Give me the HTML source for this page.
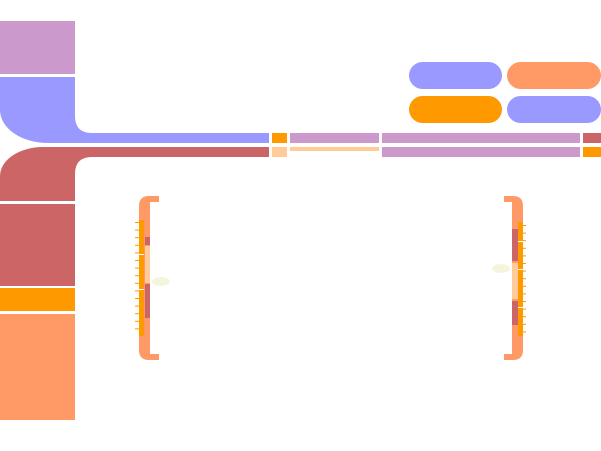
<!DOCTYPE html>
<html><head><meta charset="utf-8"><style>
body{margin:0;width:601px;height:451px;background:#fff;overflow:hidden;position:relative;font-family:"Liberation Sans",sans-serif}
div{position:absolute}
.pill{border-radius:14px}
</style></head><body>
<svg width="601" height="451" style="position:absolute;left:0;top:0">
<rect x="0" y="21" width="75" height="53" fill="#cc99cc"/>
<path d="M0,77 H75 V116 Q75,133 92,133 H269 V143 H48 A48,33 0 0 1 0,110 Z" fill="#9999ff"/>
<path d="M43,147 H269 V157 H92 Q75,157 75,174 V201 H0 V176 A43,29 0 0 1 43,147 Z" fill="#cc6666"/>
<rect x="0" y="204" width="75" height="82" fill="#cc6666"/>
<rect x="0" y="288" width="75" height="23" fill="#ff9900"/>
<rect x="0" y="314" width="75" height="106" fill="#ff9966"/>
<rect x="272" y="133" width="15" height="10" fill="#ff9900"/>
<rect x="290" y="133" width="89" height="10" fill="#cc99cc"/>
<rect x="382" y="133" width="198" height="10" fill="#cc99cc"/>
<rect x="583" y="133" width="18" height="10" fill="#cc6666"/>
<rect x="272" y="147" width="15" height="10" fill="#ffcc99"/>
<rect x="290" y="147" width="89" height="4" fill="#ffcc99"/>
<rect x="382" y="147" width="198" height="10" fill="#cc99cc"/>
<rect x="583" y="147" width="18" height="10" fill="#ff9900"/>
<!-- left bracket -->
<g>
<path d="M139,360 V206 Q139,196 149,196 H159 V202 H150 V354 H159 V360 H149 Q139,360 139,350 Z" fill="#ff9966"/>
<rect x="145" y="237" width="5" height="8" fill="#cc6666"/>
<rect x="145" y="246" width="5" height="37" fill="#ffcc99"/>
<rect x="145" y="284" width="5" height="34" fill="#cc6666"/>
<rect x="139" y="220" width="5" height="116" fill="#ff9900"/>
<rect x="139" y="254" width="5" height="1" fill="#fff"/>
<rect x="139" y="289" width="5" height="1" fill="#fff"/>
<ellipse cx="161" cy="281.5" rx="9" ry="4.5" fill="#f5f5dc"/>
</g>
<g>
<path d="M523,360 V206 Q523,196 513,196 H504 V202 H512 V354 H504 V360 H513 Q523,360 523,350 Z" fill="#ff9966"/>
<rect x="512" y="229" width="6" height="32" fill="#cc6666"/>
<rect x="512" y="263" width="6" height="36" fill="#ffcc99"/>
<rect x="512" y="301" width="6" height="24" fill="#cc6666"/>
<rect x="518" y="222" width="5" height="114" fill="#ff9900"/>
<rect x="518" y="241" width="5" height="1" fill="#fff"/>
<rect x="518" y="269" width="5" height="1" fill="#fff"/>
<rect x="518" y="307" width="5" height="1" fill="#fff"/>
<ellipse cx="501" cy="268.5" rx="9" ry="4.5" fill="#f5f5dc"/>
</g>
<g id="ticks" fill="#ff9900"></g>
</svg>
<div class="pill" style="left:409px;top:62px;width:93px;height:27px;background:#9999ff"></div>
<div class="pill" style="left:507px;top:62px;width:94px;height:27px;background:#ff9966"></div>
<div class="pill" style="left:409px;top:96px;width:93px;height:27px;background:#ff9900"></div>
<div class="pill" style="left:507px;top:96px;width:94px;height:27px;background:#9999ff"></div>
<script>
var g=document.getElementById('ticks');
for(var i=0;i<15;i++){
 var y=222+i*7.6;
 var a=document.createElementNS('http://www.w3.org/2000/svg','rect');
 a.setAttribute('x',135);a.setAttribute('y',y);a.setAttribute('width',4);a.setAttribute('height',1);
 
 
 g.appendChild(a);
 var b=document.createElementNS('http://www.w3.org/2000/svg','rect');
 b.setAttribute('x',523);b.setAttribute('y',y+3);b.setAttribute('width',3);b.setAttribute('height',1);
 
 
 g.appendChild(b);
}
</script>
</body></html>
